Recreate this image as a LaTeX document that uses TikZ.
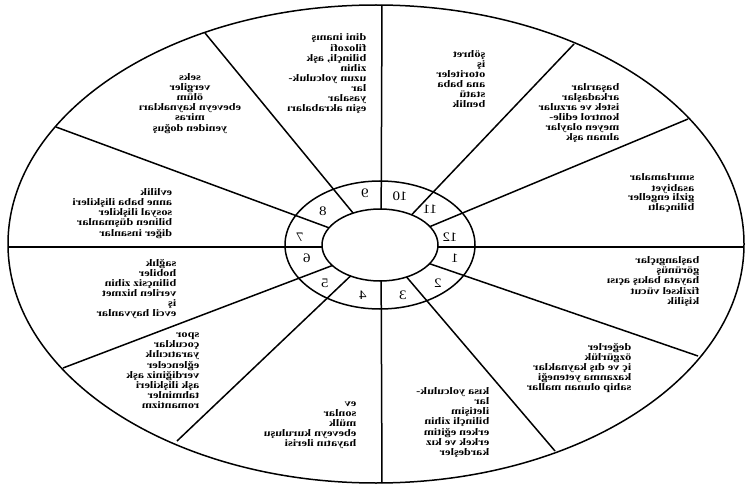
\documentclass[tikz,border=0pt]{standalone}
\usepackage{fontspec}
\setmainfont{Liberation Serif}
\usepackage{graphicx}
\usetikzlibrary{calc}
\newcommand\mtxt[2][l]{\scalebox{-1.22}[1]{\begin{tabular}{@{}#1@{}}#2\end{tabular}}}
\newcommand\mnum[1]{\scalebox{-1.15}[1]{#1}}
\begin{document}
\begin{tikzpicture}[x=1pt,y=-1pt,line width=1.5pt,
  txt/.style={anchor=east,inner sep=0pt,font=\fontsize{10}{10}\selectfont\bfseries},
  ctxt/.style={anchor=center,inner sep=0pt,font=\fontsize{10}{10}\selectfont\bfseries},
  num/.style={inner sep=0pt,font=\fontsize{13}{13}\selectfont}]
\useasboundingbox (0,0) rectangle (750,500);
\fill[white] (0,0) rectangle (750,500);
\coordinate (O) at (376,244);
\coordinate (C) at (380,245);
\coordinate (S) at (381,247);
\draw (O) ellipse (368 and 239);
\draw (C) ellipse (95 and 64);
\draw (C) ellipse (58 and 36);
% spokes: all aim at the common point S, cut at the inner circle
\foreach \n/\px/\py in {a/743/247, b/698/356, c/555/451, d/382/483,
  e/177/441, f/63/368, g/9/247, h/56/127, i/205/33,
  j/382/5, k/574/44, l/688/119}{
  \coordinate (P\n) at (\px,\py);
}
\begin{scope}[even odd rule]
  \clip (0,0) rectangle (750,500) (C) ellipse (58 and 36);
  \foreach \n in {a,b,c,d,e,f,g,h,i,j,k,l}{
    \draw (P\n) -- (S);
  }
\end{scope}
% numbers
\foreach \k/\x/\y in {1/455/258, 2/438/283, 3/403/295, 4/363/295, 5/325/283, 6/307/258,
  7/300/237, 8/323/211, 9/365/193, 10/400/196, 11/430/209, 12/450/237}{
  \node[num] (n\k) at (\x,\y) {\mnum{\k}};
}
% texts
\node[txt] (h9) at (367,74) {\mtxt{dini inanış\\filozofi\\bilinçli, aşk\\zihin\\uzun yolculuk-\\lar\\yasalar\\eşin akrabaları}};
\node[txt] (h10) at (486,81) {\mtxt{şöhret\\iş\\otoriteler\\ana baba\\statü\\benlik}};
\node[txt] (h11) at (620,114) {\mtxt{başarılar\\arkadaşlar\\istek ve arzular\\kontrol edile-\\meyen olaylar\\alınan aşk}};
\node[txt] (h12) at (695,194) {\mtxt{sınırlamalar\\asabiyet\\gizli engeller\\bilinçaltı}};
\node[txt] (h1) at (700,282) {\mtxt{başlangıçlar\\görünüş\\hayata bakış açısı\\fiziksel vücut\\kişilik}};
\node[txt] (h2) at (632,368) {\mtxt{değerler\\özgürlük\\iç ve dış kaynaklar\\kazanma yeteneği\\sahip olunan mallar}};
\node[txt] (h3) at (490,423) {\mtxt{kısa yolculuk-\\lar\\iletişim\\bilinçli zihin\\erken eğitim\\erkek ve kız\\kardeşler}};
\node[txt] (h4) at (357,424) {\mtxt{ev\\sonlar\\mülk\\ebeveyn kuruluşu\\hayatın ilerisi}};
\node[txt] (h5) at (200,371) {\mtxt{spor\\çocuklar\\yaratıcılık\\eğlenceler\\verdiğiniz aşk\\aşk ilişkileri\\tahminler\\romantizm}};
\node[txt] (h6) at (177,289) {\mtxt{sağlık\\hobiler\\bilinçsiz zihin\\verilen hizmet\\iş\\evcil hayvanlar}};
\node[txt] (h7) at (173,214) {\mtxt{evlilik\\anne baba ilişkileri\\sosyal ilişkiler\\bilinen düşmanlar\\diğer insanlar}};
\node[ctxt] (h8) at (190,104) {\mtxt[c]{seks\\vergiler\\ölüm\\ebeveyn kaynakları\\miras\\yeniden doğuş}};
\end{tikzpicture}
\end{document}
